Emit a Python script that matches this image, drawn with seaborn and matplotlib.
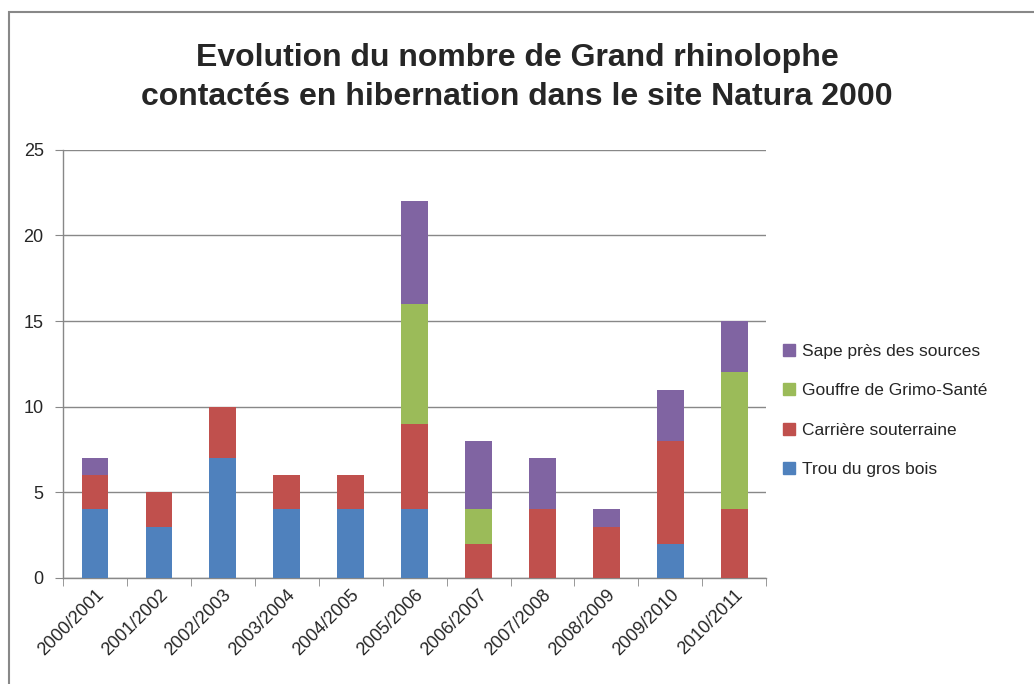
import numpy as np
import pandas as pd
import matplotlib.pyplot as plt
import seaborn as sns
from matplotlib.patches import Rectangle, Patch

# Chart values
seasons = ['2000/2001', '2001/2002', '2002/2003', '2003/2004', '2004/2005', '2005/2006',
           '2006/2007', '2007/2008', '2008/2009', '2009/2010', '2010/2011']
trou = [4, 3, 7, 4, 4, 4, 0, 0, 0, 2, 0]
carriere = [2, 2, 3, 2, 2, 5, 2, 4, 3, 6, 4]
gouffre = [0, 0, 0, 0, 0, 7, 2, 0, 0, 0, 8]
sape = [1, 0, 0, 0, 0, 6, 4, 3, 1, 3, 3]

names = ['Trou du gros bois', 'Carrière souterraine', 'Gouffre de Grimo-Santé', 'Sape près des sources']
colors = ['#4F81BD', '#C0504D', '#9BBB59', '#8064A2']

df = pd.DataFrame({'saison': seasons, names[0]: trou, names[1]: carriere,
                   names[2]: gouffre, names[3]: sape})

sns.set_style('white')
plt.rcParams['font.family'] = ['Liberation Sans Narrow', 'Liberation Sans', 'DejaVu Sans']

fig = plt.figure(figsize=(10.34, 6.84), dpi=100)
ax = fig.add_axes([0.061, 0.155, 0.68, 0.626])

# outer chart frame
fig.patches.append(Rectangle((0.009, -0.05), 1.1, 1.033, transform=fig.transFigure,
                             fill=False, edgecolor='#888888', linewidth=1.5))

# stacked bars: draw cumulative totals from the top down
cum = df[names].cumsum(axis=1)
for i in range(3, -1, -1):
    sns.barplot(x=df['saison'], y=cum[names[i]], color=colors[i], width=0.42,
                saturation=1, linewidth=0, ax=ax, zorder=3)

ax.set_ylim(0, 25)
ax.set_xlim(-0.5, 10.5)
ax.set_yticks(range(0, 26, 5))
ax.yaxis.grid(True, color='#888888', linewidth=1, zorder=0)
ax.set_axisbelow(True)
ax.set_xlabel('')
ax.set_ylabel('')

for s in ['top', 'right']:
    ax.spines[s].set_visible(False)
for s in ['left', 'bottom']:
    ax.spines[s].set_color('#888888')
    ax.spines[s].set_linewidth(1)

ax.tick_params(axis='y', left=True, length=6, color='#888888', labelsize=13, pad=8)
ax.set_xticks(np.arange(-0.5, 11, 1), minor=True)
ax.tick_params(axis='x', which='major', length=0, labelsize=13, pad=6)
ax.tick_params(axis='x', which='minor', bottom=True, length=6, color='#888888')
plt.setp(ax.get_xticklabels(), rotation=45, ha='right', rotation_mode='anchor')

handles = [Patch(color=colors[i], label=names[i]) for i in range(3, -1, -1)]
fig.legend(handles=handles, loc='center left', bbox_to_anchor=(0.742, 0.4),
           frameon=False, fontsize=12.5, handlelength=0.7, handleheight=0.7,
           handletextpad=0.4, labelspacing=1.4)

fig.text(0.5, 0.887, 'Evolution du nombre de Grand rhinolophe\ncontactés en hibernation dans le site Natura 2000',
         ha='center', va='center', fontsize=23, fontweight='bold', linespacing=1.4)

fig.savefig('out.png', dpi=100)
